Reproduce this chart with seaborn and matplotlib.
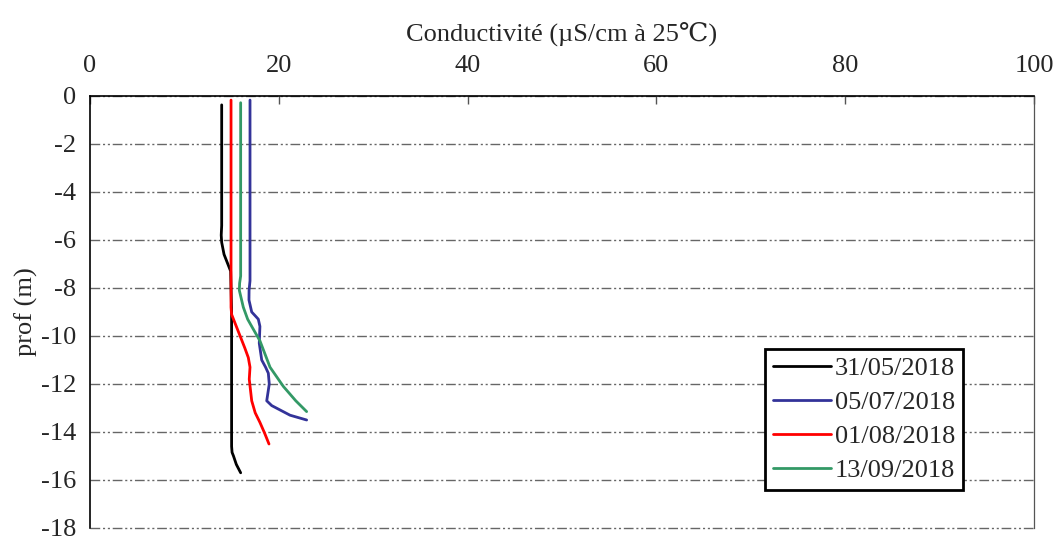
import numpy as np
import pandas as pd
import seaborn as sns
import matplotlib.pyplot as plt

# ================= DATA =================
DATES = ["31/05/2018", "05/07/2018", "01/08/2018", "13/09/2018"]
COLORS = ["#000000", "#333399", "#ff0000", "#339966"]

# conductivity (uS/cm at 25C) vs depth (m)
cond_0531 = [13.95, 13.95, 13.9, 13.95, 14.2, 14.6, 14.9, 15.0, 15.0, 15.0, 15.05, 15.2, 15.5, 15.96]
prof_0531 = [-0.37, -5.4, -5.8, -6.1, -6.6, -7.0, -7.3, -9.0, -13.9, -14.6, -14.85, -15.0, -15.35, -15.7]

cond_0507 = [16.95, 16.95, 16.85, 16.84, 17.13, 17.6, 17.83, 18.0, 17.93, 18.19, 18.6, 18.89, 18.99, 18.72, 19.25, 21.19, 22.95]
prof_0507 = [-0.17, -7.7, -8.1, -8.5, -9.0, -9.2, -9.3, -9.6, -10.3, -11.0, -11.3, -11.55, -12.0, -12.7, -12.9, -13.3, -13.5]

cond_0108 = [14.94, 14.94, 15.0, 15.4, 15.9, 16.4, 16.77, 16.95, 16.87, 17.13, 17.5, 18.0, 18.5, 18.96]
prof_0108 = [-0.17, -8.8, -9.1, -9.5, -10.0, -10.5, -10.9, -11.3, -11.8, -12.7, -13.2, -13.6, -14.05, -14.5]

cond_1309 = [15.96, 15.96, 15.85, 15.82, 16.24, 16.7, 17.13, 18.0, 19.07, 20.48, 21.8, 22.95]
prof_1309 = [-0.28, -7.5, -7.8, -8.1, -8.8, -9.3, -9.6, -10.2, -11.3, -12.1, -12.7, -13.15]

X_TICKS = [0, 20, 40, 60, 80, 100]
Y_TICKS = list(range(0, -20, -2))
# =========================================

frames = []
for date, c, p in zip(DATES, [cond_0531, cond_0507, cond_0108, cond_1309],
                      [prof_0531, prof_0507, prof_0108, prof_1309]):
    frames.append(pd.DataFrame({"cond": c, "prof": p, "date": date}))
df = pd.concat(frames, ignore_index=True)

sns.set_style("white")
plt.rcParams["font.family"] = ["Liberation Serif", "DejaVu Serif"]
plt.rcParams["axes.unicode_minus"] = False

fig = plt.figure(figsize=(10.56, 5.36), dpi=100)
ax = fig.add_axes([90 / 1056, 1 - 528 / 536, 944 / 1056, 432 / 536])

sns.lineplot(
    data=df, x="cond", y="prof", hue="date", hue_order=DATES,
    palette=COLORS, sort=False, estimator=None, linewidth=2, ax=ax,
)

ax.set_xlim(0, 100)
ax.set_ylim(-18, 0)
ax.set_xticks(X_TICKS)
ax.set_yticks(Y_TICKS)

# x axis on top
ax.xaxis.tick_top()
ax.xaxis.set_label_position("top")
ax.set_xlabel("Conductivité (µS/cm à 25\u2103)", fontsize=19, labelpad=10)
ax.set_ylabel("prof (m)", fontsize=19, labelpad=2)

ax.tick_params(axis="x", direction="in", length=6, width=1, labelsize=19, pad=14, color="#555555")
ax.tick_params(axis="y", direction="out", length=6, width=1, labelsize=19, pad=4, color="#555555")
ax.set_xticklabels([str(v) for v in X_TICKS])
ax.set_yticklabels([str(v) for v in Y_TICKS])

# dash-dot-dot grid
ax.yaxis.grid(True, color="#666666", linewidth=1.0, linestyle=(0, (7, 2, 1.5, 2, 1.5, 2)))
ax.xaxis.grid(False)
for gl in ax.yaxis.get_gridlines():
    gl.set_clip_on(False)

ax.spines["left"].set_color("black")
ax.spines["left"].set_linewidth(1.2)
ax.spines["top"].set_color("black")
ax.spines["top"].set_linewidth(1.2)
ax.spines["right"].set_color("#555555")
ax.spines["right"].set_linewidth(0.9)
ax.spines["bottom"].set_visible(False)

leg = ax.legend(
    loc="lower right", bbox_to_anchor=(0.925, 0.088), fontsize=19,
    frameon=True, fancybox=False, edgecolor="black", framealpha=1,
    handlelength=2.2, handletextpad=0.15, borderpad=0.3, labelspacing=0.4,
    borderaxespad=0,
)
leg.get_frame().set_linewidth(2)
for line in leg.get_lines():
    line.set_linewidth(2)

fig.savefig("out.png", dpi=100)
